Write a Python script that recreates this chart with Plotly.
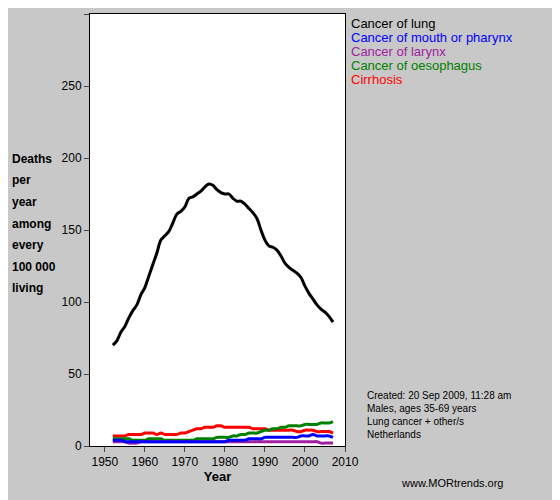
import plotly.graph_objects as go

years = list(range(1952, 2008))
# values, every 5 years then filled by eye
lung = [70, 73, 79, 83, 89, 94, 98, 105, 110, 118, 126, 134, 143, 146, 149, 155, 161, 163, 166, 172, 173, 175, 177, 180, 182, 181, 178, 176, 175, 175, 172, 170, 170, 168, 165, 162, 158, 150, 143, 139, 138, 136, 132, 127, 124, 122, 120, 117, 111, 106, 102, 98, 95, 93, 90, 86]
mouth = [4, 4, 4, 3, 3, 3, 3, 3, 3, 3, 3, 3, 3, 3, 3, 3, 3, 3, 3, 3, 3, 3, 3, 3, 3, 3, 3, 3, 3, 4, 4, 4, 4, 4, 5, 5, 5, 5, 6, 6, 6, 6, 6, 6, 6, 6, 6, 7, 7, 7, 8, 7, 7, 7, 7, 6]
larynx = [3, 3, 3, 3, 2, 2, 2, 3, 3, 3, 3, 3, 3, 3, 3, 3, 3, 3, 3, 3, 3, 3, 3, 3, 3, 3, 3, 3, 3, 3, 3, 3, 3, 3, 3, 3, 3, 3, 3, 3, 3, 3, 3, 3, 3, 3, 3, 3, 3, 3, 3, 3, 2, 2, 2, 2]
oeso = [5, 5, 5, 5, 5, 4, 4, 4, 4, 5, 5, 5, 5, 4, 4, 4, 4, 4, 4, 4, 4, 5, 5, 5, 5, 5, 6, 6, 6, 6, 7, 7, 8, 8, 9, 9, 9, 10, 11, 11, 12, 12, 13, 13, 14, 14, 14, 14, 15, 15, 15, 15, 16, 16, 16, 17]
cirr = [7, 7, 7, 7, 8, 8, 8, 8, 9, 9, 9, 8, 9, 8, 8, 8, 8, 9, 9, 10, 11, 12, 12, 13, 13, 13, 14, 14, 13, 13, 13, 13, 13, 13, 13, 12, 12, 12, 12, 11, 11, 11, 11, 11, 11, 11, 10, 10, 11, 11, 11, 10, 10, 10, 10, 9]

names = ["Cancer of lung", "Cancer of mouth or pharynx", "Cancer of larynx",
         "Cancer of oesophagus", "Cirrhosis"]
colors = ["black", "blue", "#a020a0", "green", "red"]
series = [lung, mouth, larynx, oeso, cirr]

fig = go.Figure()
# draw small ones first so lung is on top
for name, col, vals in reversed(list(zip(names, colors, series))):
    fig.add_trace(go.Scatter(x=years, y=vals, mode="lines", name=name,
                             line=dict(color=col, width=3, shape="spline")))

fig.update_layout(
    width=560, height=500, showlegend=False,
    paper_bgcolor="#c8c8c8", plot_bgcolor="white",
    margin=dict(l=82, r=223, t=6, b=62),
    font=dict(family="Arial", size=12, color="black"),
)
fig.update_xaxes(range=[1946.3, 2010], tickvals=list(range(1950, 2011, 10)),
                 ticks="outside", ticklen=5, showgrid=False, zeroline=False,
                 showline=True, linecolor="black", mirror=True,
                 title=dict(text="<b>Year</b>", standoff=2, font=dict(size=13)))
fig.update_yaxes(range=[0, 300], tickvals=list(range(0, 301, 50)),
                 ticks="outside", ticklen=5, showgrid=False, zeroline=False,
                 showline=True, linecolor="black", mirror=True)

for i, (name, col) in enumerate(zip(names, colors)):
    fig.add_annotation(text=name, xref="paper", yref="paper", x=1.015, y=1.0 - i * 0.0325,
                       xanchor="left", yanchor="top", showarrow=False,
                       font=dict(size=13, color=col))

ylab = ["Deaths", "per", "year", "among", "every", "100 000", "living"]
for i, t in enumerate(ylab):
    fig.add_annotation(text="<b>" + t + "</b>", xref="paper", yref="paper",
                       x=-0.315, y=0.665 - i * 0.05, xanchor="left", yanchor="middle",
                       showarrow=False, font=dict(size=12))

fig.add_annotation(text="Created: 20 Sep 2009, 11:28 am<br>Males, ages 35-69 years<br>"
                        "Lung cancer + other/s<br>Netherlands",
                   xref="paper", yref="paper", x=1.08, y=0.135, xanchor="left",
                   yanchor="top", showarrow=False, align="left", font=dict(size=10))
fig.add_annotation(text="www.MORtrends.org", xref="paper", yref="paper",
                   x=1.21, y=-0.085, xanchor="left", yanchor="middle",
                   showarrow=False, font=dict(size=11))

fig.write_html("out.html")
